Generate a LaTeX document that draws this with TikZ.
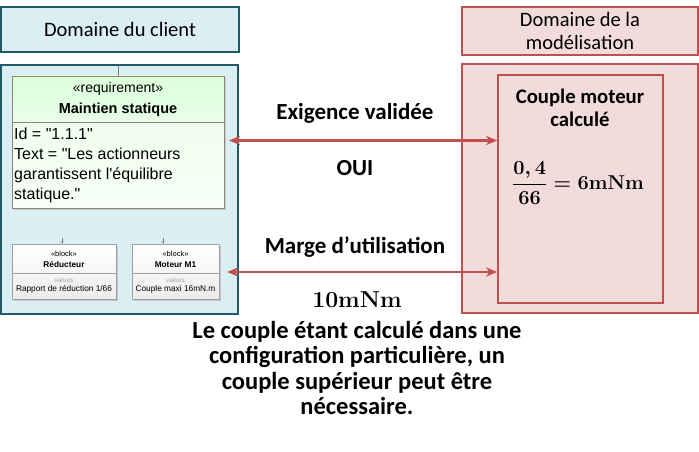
\RequirePackage{fix-cm}
\documentclass[tikz,border=0pt]{standalone}
\usepackage{amsmath}
\usepackage[no-math]{fontspec}
\setmainfont{Carlito}
\newfontfamily\arialf{Liberation Sans}
\usetikzlibrary{arrows.meta}
\definecolor{clientfill}{HTML}{DBEEF4}
\definecolor{clientline}{HTML}{215968}
\definecolor{modfill}{HTML}{F2DCDB}
\definecolor{modline}{HTML}{C0504D}
\definecolor{reqline}{HTML}{8C8478}
\definecolor{blkline}{HTML}{A0A0A0}
\begin{document}
\begin{tikzpicture}[x=1pt,y=-1pt,
    client/.style={draw=clientline,fill=clientfill,line width=1.6pt,inner sep=0pt},
    modele/.style={draw=modline,fill=modfill,line width=1.6pt,inner sep=0pt},
    lab/.style={font=\bfseries\fontsize{23}{27}\selectfont,align=center},
    fleche/.style={draw=modline,line width=2.4pt,
        {Stealth[length=11pt,width=9pt,inset=3pt]}-{Stealth[length=11pt,width=9pt,inset=3pt]}},
    petit/.style={draw=gray,line width=0.5pt,-{Straight Barb[length=2pt,width=3pt]}}]
\useasboundingbox (0,0) rectangle (699,452);
% domaines
\node[client,minimum width=238pt,minimum height=45pt,
    font=\fontsize{20.5}{24}\selectfont] (titreclient) at (120,29.5) {Domaine du client};
\node[modele,minimum width=236pt,minimum height=48pt,align=center,
    font=\fontsize{20.5}{23.5}\selectfont] (titremod) at (580,31) {Domaine de la\\modélisation};
\node[client,minimum width=237pt,minimum height=249pt] (client) at (119.5,189.5) {};
\node[modele,minimum width=236pt,minimum height=249pt] (modele) at (580,188.5) {};
\node[modele,minimum width=165pt,minimum height=228pt] (calc) at (580.5,189) {};

% exigence SysML
\fill[gray!40] (14,78) rectangle (226,210);
\shade[top color=green!8!white,bottom color=green!3!white,draw=reqline,line width=0.8pt]
    (12,76) rectangle (224,208);
\shade[top color=green!14!white,bottom color=green!9!white,draw=reqline,line width=0.8pt]
    (12,76) rectangle (224,122);
\node (req) at (118,142) {};
\node[font=\arialf\fontsize{14}{16}\selectfont] (stereo) at (118,89) {«requirement»};
\node[font=\arialf\bfseries\fontsize{14.5}{16}\selectfont] (nomreq) at (118,110) {Maintien statique};
\node[font=\arialf\fontsize{16}{20}\selectfont,align=left,anchor=north west,inner sep=0pt]
    (txtreq) at (14,128) {Id = "1.1.1"\\Text = "Les actionneurs\\garantissent l'équilibre\\statique."};
\draw[draw=reqline,line width=0.8pt] (118,66) -- (118,76);

% blocs
\foreach \cx/\w/\nom/\attr/\id in {64/104/Réducteur/Rapport de réduction 1\slash 66/red,
        175.5/87/Moteur M1/Couple maxi 16mN.m/mot}{
  \fill[gray!45] (\cx-\w/2+1.5,245.5) rectangle (\cx+\w/2+1.5,300.5);
  \shade[top color=white,bottom color=gray!15,draw=blkline,line width=0.6pt]
      (\cx-\w/2,244) rectangle (\cx+\w/2,299);
  \draw[blkline,line width=0.6pt] (\cx-\w/2,273) -- (\cx+\w/2,273);
  \node[minimum width=\w pt,minimum height=55pt,inner sep=0pt] (\id) at (\cx,271.5) {};
  \node[font=\arialf\fontsize{7.5}{8}\selectfont] at (\cx,254) {«block»};
  \node[font=\arialf\bfseries\fontsize{8.3}{9}\selectfont] at (\cx,264.5) {\nom};
  \node[font=\arialf\itshape\fontsize{6.5}{7}\selectfont,text=gray!70] at (\cx,280) {values};
  \node[font=\arialf\fontsize{8.3}{9}\selectfont] at (\cx,289.5) {\attr};
}
\draw[petit] (62,238) -- (red.north -| 62,0);
\draw[petit] (163,238) -- (mot.north -| 163,0);

% liens
\coordinate (e1) at (229,140.5);
\coordinate (e2) at (227,272);
\draw[fleche] (e1) -- (e1 -| calc.west);
\draw[fleche] (e2) -- (e2 -| calc.west);
\node[lab] (exig) at (355,113) {Exigence validée};
\node[lab] (oui) at (355,168) {OUI};
\node[lab] (marge) at (355,247) {Marge d’utilisation};
\node[font=\fontsize{23}{26}\selectfont\boldmath] (dix) at (357,300) {$\mathbf{10mNm}$};
\node[lab,font=\bfseries\fontsize{24.5}{25.3}\selectfont] (remarque) at (357,368)
    {Le couple étant calculé dans une\\configuration particulière, un\\couple supérieur peut être\\nécessaire.};

% couple calcule
\node[lab,font=\bfseries\fontsize{20.7}{23}\selectfont] (titrecalc) at (580,108) {Couple moteur\\calculé};
\node[font=\fontsize{20}{24}\selectfont\boldmath] (formule) at (578,183)
    {$\displaystyle\frac{0,4}{66}=6\mathbf{mNm}$};
\end{tikzpicture}
\end{document}
